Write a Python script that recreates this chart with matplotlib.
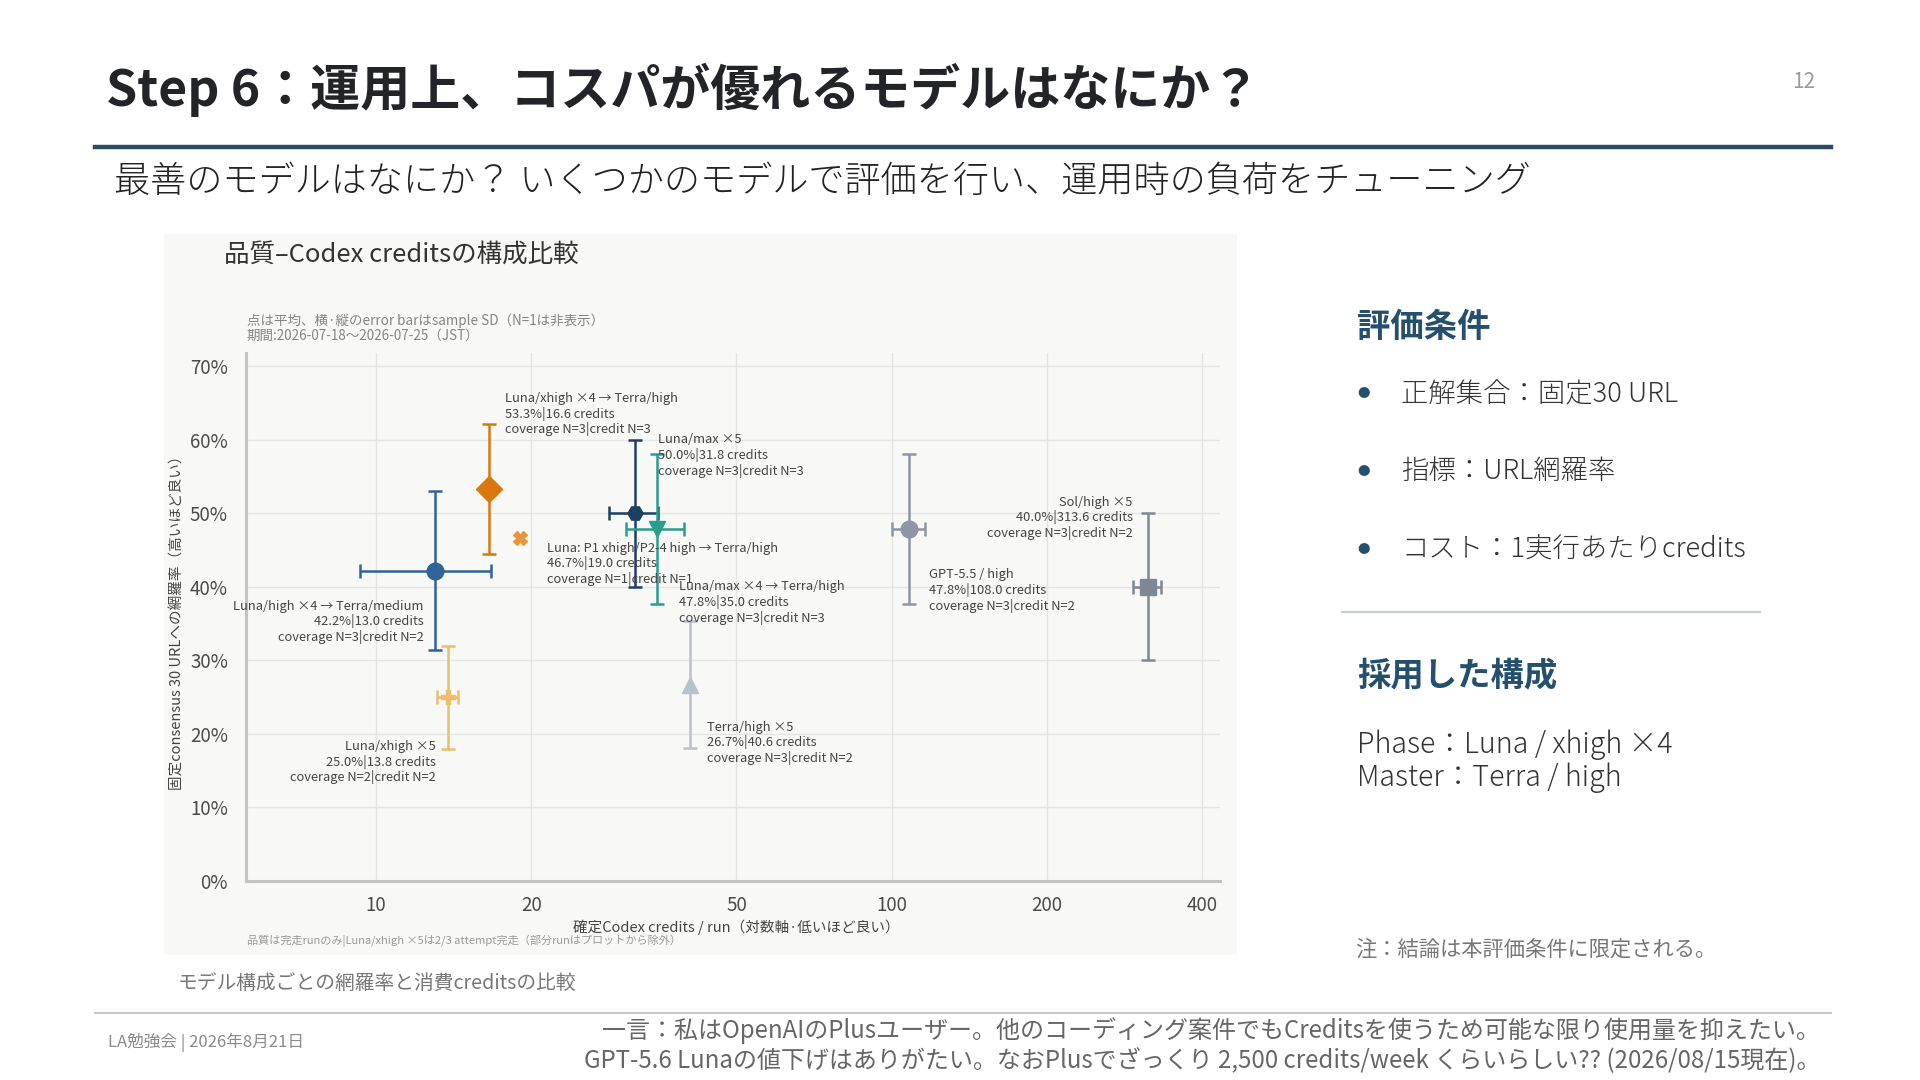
import matplotlib
matplotlib.use("Agg")
import matplotlib.pyplot as plt
from matplotlib.patches import Rectangle
from matplotlib.lines import Line2D
from matplotlib.ticker import FixedLocator, NullLocator

plt.rcParams['font.family'] = ['Noto Sans CJK JP', 'DejaVu Sans']

# ---- data ----
config_names = [
    "Luna/high ×4 → Terra/medium",
    "Luna/xhigh ×4 → Terra/high",
    "Luna: P1 xhigh/P2-4 high → Terra/high",
    "Luna/max ×5",
    "Luna/max ×4 → Terra/high",
    "Terra/high ×5",
    "GPT-5.5 / high",
    "Sol/high ×5",
    "Luna/xhigh ×5",
]
credits_mean = [13.0, 16.6, 19.0, 31.8, 35.0, 40.6, 108.0, 313.6, 13.8]
credits_sd = [3.7, 0.0, 0.0, 3.5, 4.5, 0.0, 8.0, 19.5, 0.65]
coverage_mean = [42.2, 53.3, 46.7, 50.0, 47.8, 26.7, 47.8, 40.0, 25.0]
coverage_sd = [10.8, 8.8, 0.0, 10.0, 10.2, 8.6, 10.2, 10.0, 7.0]
n_coverage = [3, 3, 1, 3, 3, 3, 3, 3, 2]
n_credit = [2, 3, 1, 3, 3, 2, 2, 2, 2]

x_ticks = [10, 20, 50, 100, 200, 400]
y_ticks = [0, 10, 20, 30, 40, 50, 60, 70]

# ---- styles ----
markers = ['o', 'D', 'X', 'H', 'v', '^', 'o', 's', 'P']
marker_sizes = [12, 13, 10, 11, 12, 11, 12, 11, 10]
colors = ['#2f6496', '#d9780f', '#e8963c', '#1c3f66', '#2a9d8f',
          '#b9c1cb', '#8d96a2', '#7e8794', '#ebbd6e']
# label offset in pixels from the point, and horizontal alignment
label_offsets = [(-11, -29), (16, 97), (27, -4), (23, 80), (22, -51),
                 (17, -36), (20, -39), (-15, 91), (-12, -43)]
label_ha = ['right', 'left', 'left', 'left', 'left', 'left', 'left', 'right', 'right']

W, H = 1920, 1080


def fx(px):
    return px / W


def fy(py):
    return 1 - py / H


fig = plt.figure(figsize=(19.2, 10.8), dpi=100)
fig.patch.set_facecolor('white')

# header
fig.text(fx(106), fy(90), "Step 6：運用上、コスパが優れるモデルはなにか？",
         fontsize=36, fontweight='bold', color='#222428', va='center', ha='left')
fig.text(fx(1815), fy(82), "12", fontsize=15, color='#9a9a9a', va='center', ha='right')
fig.add_artist(Line2D([fx(95), fx(1831)], [fy(147), fy(147)], color='#2a4a66', lw=3.2))
fig.text(fx(114), fy(182), "最善のモデルはなにか？ いくつかのモデルで評価を行い、運用時の負荷をチューニング",
         fontsize=26, color='#222222', va='center', ha='left', fontweight='light')

# chart panel background
fig.add_artist(Rectangle((fx(164), fy(955)), fx(1237) - fx(164), fy(234) - fy(955),
                         transform=fig.transFigure, facecolor='#f8f8f7', edgecolor='none', zorder=0))

fig.text(fx(224), fy(256), "品質–Codex creditsの構成比較", fontsize=18.4, color='#333333',
         va='center', ha='left')
fig.text(fx(247), fy(321), "点は平均、横·縦のerror barはsample SD（N=1は非表示）",
         fontsize=9.7, color='#848484', va='center', ha='left')
fig.text(fx(247), fy(336), "期間:2026-07-18〜2026-07-25（JST）",
         fontsize=9.7, color='#848484', va='center', ha='left')

ax = fig.add_axes([fx(246), fy(881), fx(1220) - fx(246), fy(353) - fy(881)])
ax.set_facecolor('none')
ax.set_xscale('log')
ax.set_xlim(5.6, 433)
ax.set_ylim(0, 71.8)

for i in range(len(config_names)):
    xe = credits_sd[i] if credits_sd[i] > 0 else None
    ye = coverage_sd[i] if coverage_sd[i] > 0 else None
    ax.errorbar(credits_mean[i], coverage_mean[i], xerr=xe, yerr=ye,
                fmt=markers[i], ms=marker_sizes[i], color=colors[i], ecolor=colors[i],
                elinewidth=1.8, capsize=5, capthick=1.8, mec=colors[i], zorder=3)
    label = "{}\n{:.1f}%|{:.1f} credits\ncoverage N={}|credit N={}".format(
        config_names[i], coverage_mean[i], credits_mean[i], n_coverage[i], n_credit[i])
    ax.annotate(label, (credits_mean[i], coverage_mean[i]),
                xytext=label_offsets[i], textcoords='offset pixels',
                ha=label_ha[i], va='top', fontsize=9.3, color='#444444',
                linespacing=1.15, multialignment=label_ha[i], zorder=4)

ax.xaxis.set_major_locator(FixedLocator(x_ticks))
ax.xaxis.set_minor_locator(NullLocator())
ax.set_xticklabels([str(t) for t in x_ticks])
ax.yaxis.set_major_locator(FixedLocator(y_ticks))
ax.set_yticklabels(["{}%".format(t) for t in y_ticks])
ax.tick_params(axis='both', length=0, labelsize=13.5, labelcolor='#4a4a4a')
ax.tick_params(axis='x', pad=10)
ax.tick_params(axis='y', pad=13)
ax.grid(True, color='#e4e4e4', lw=1.0, zorder=0)
ax.set_axisbelow(True)
for side in ['top', 'right']:
    ax.spines[side].set_visible(False)
for side in ['left', 'bottom']:
    ax.spines[side].set_color('#c4c4c4')
    ax.spines[side].set_linewidth(2.2)

fig.text(fx(736), fy(927), "確定Codex credits / run（対数軸·低いほど良い）",
         fontsize=10.5, color='#444444', va='center', ha='center')
fig.text(fx(178), fy(619), "固定consensus 30 URLへの網羅率（高いほど良い）",
         fontsize=10.5, color='#444444', va='center', ha='center', rotation=90)
fig.text(fx(247), fy(941), "品質は完走runのみ|Luna/xhigh ×5は2/3 attempt完走（部分runはプロットから除外）",
         fontsize=8, color='#9a9a9a', va='center', ha='left')

fig.text(fx(178), fy(983), "モデル構成ごとの網羅率と消費creditsの比較",
         fontsize=14.2, color='#777777', va='center', ha='left')

# right panel
fig.text(fx(1357), fy(327), "評価条件", fontsize=24, fontweight='bold', color='#24506e',
         va='center', ha='left')
bullets = ["正解集合：固定30 URL", "指標：URL網羅率", "コスト：1実行あたりcredits"]
bullet_y = [394, 471, 550]
for txt, by in zip(bullets, bullet_y):
    fig.text(fx(1364), fy(by), "●", fontsize=9, color='#24506e', va='center', ha='center')
    fig.text(fx(1401), fy(by), txt, fontsize=19.7, color='#333333', va='center', ha='left',
             fontweight='light')
fig.add_artist(Line2D([fx(1342), fx(1760)], [fy(612), fy(612)], color='#c5cbd2', lw=1.6))
fig.text(fx(1357), fy(676), "採用した構成", fontsize=24, fontweight='bold', color='#24506e',
         va='center', ha='left')
fig.text(fx(1357), fy(745), "Phase：Luna / xhigh ×4", fontsize=20.6, color='#333333',
         va='center', ha='left', fontweight='light')
fig.text(fx(1357), fy(778), "Master：Terra / high", fontsize=20.6, color='#333333',
         va='center', ha='left', fontweight='light')
fig.text(fx(1355), fy(950), "注：結論は本評価条件に限定される。", fontsize=15.3, color='#777777',
         va='center', ha='left')

# footer
fig.add_artist(Line2D([fx(95), fx(1831)], [fy(1013), fy(1013)], color='#c8c8c8', lw=1.5))
fig.text(fx(108), fy(1042), "LA勉強会 | 2026年8月21日", fontsize=12, color='#8a8a8a',
         va='center', ha='left')
fig.text(fx(1820), fy(1031),
         "一言：私はOpenAIのPlusユーザー。他のコーディング案件でもCreditsを使うため可能な限り使用量を抑えたい。",
         fontsize=17.3, color='#666666', va='center', ha='right')
fig.text(fx(1820), fy(1060),
         "GPT-5.6 Lunaの値下げはありがたい。なおPlusでざっくり 2,500 credits/week くらいらしい?? (2026/08/15現在)。",
         fontsize=17.3, color='#666666', va='center', ha='right')

fig.savefig("out.png", dpi=100, facecolor='white')
